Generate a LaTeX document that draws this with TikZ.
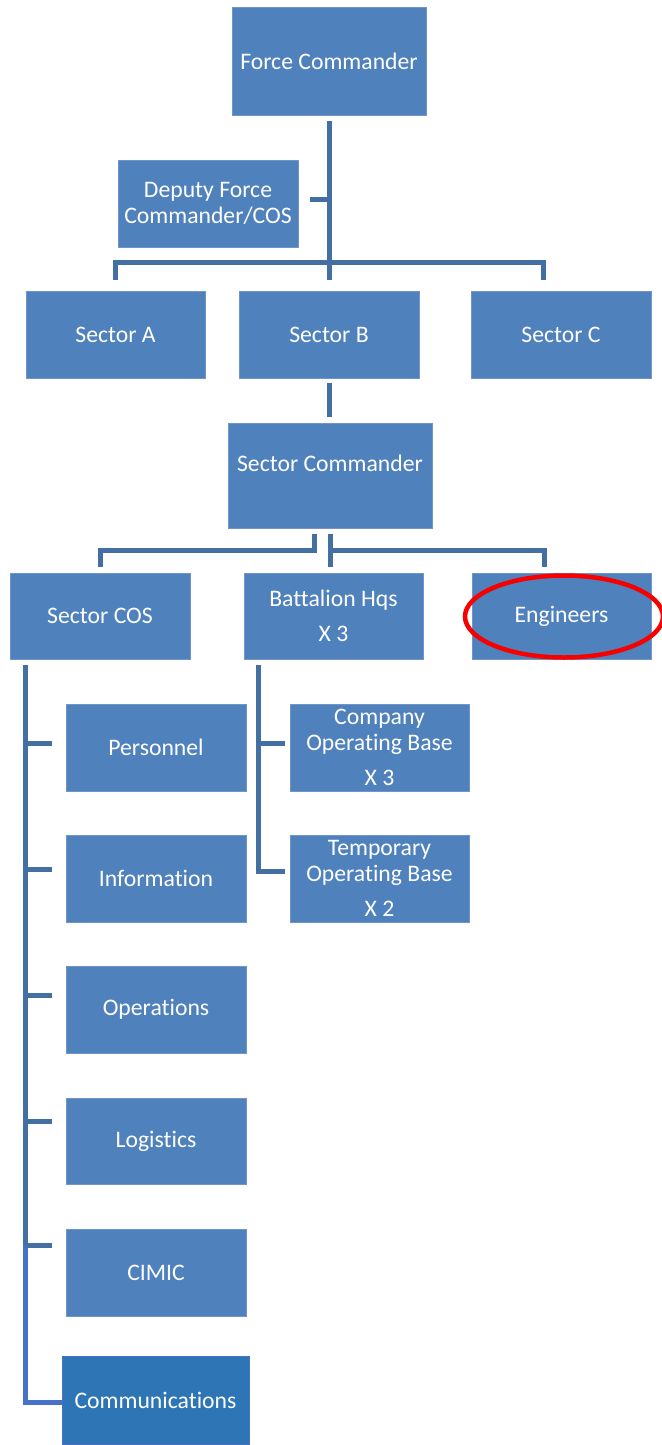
\documentclass[tikz,border=0pt]{standalone}
\usepackage{fontspec}
\setmainfont{Carlito}[Ligatures=NoCommon]
\usetikzlibrary{calc}
\definecolor{boxfill}{HTML}{4F81BD}
\definecolor{boxedge}{HTML}{7096C8}
\definecolor{connc}{HTML}{446FA3}
\definecolor{connb}{HTML}{4472C4}
\definecolor{commfill}{HTML}{2E75B6}
\definecolor{ringred}{HTML}{F70000}
\begin{document}
\begin{tikzpicture}[x=1pt,y=-1pt,
  box/.style={rectangle, fill=boxfill, draw=boxedge, line width=0.8pt, text=white,
    inner sep=0pt, align=center, minimum width=180pt, minimum height=87pt,
    font=\fontsize{23.7}{26}\selectfont},
  conn/.style={draw=connc, line width=5pt, line join=miter},
]
\useasboundingbox (0,0) rectangle (661,1445);

% boxes
\node[box, minimum width=194pt, minimum height=108pt] (fc) at (329,61) {Force Commander};
\node[box] (dfc) at (208,203.5) {Deputy Force\\Commander/COS};
\node[box, minimum width=179pt] (sa) at (115.5,334.5) {Sector A};
\node[box] (sb) at (329,334.5) {Sector B};
\node[box] (sc) at (561,334.5) {Sector C};
\node[box, minimum width=204pt, minimum height=105pt] (scmd) at (330,475.5) {\raisebox{12pt}[\height][\depth]{Sector Commander}};
\node[box, minimum height=86pt] (scos) at (100,616) {Sector COS};
\node[box, minimum width=179pt, minimum height=86pt] (bhq) at (333.5,616) {Battalion Hqs\\[9pt]X 3};
\node[box, minimum width=179pt, minimum height=86pt] (eng) at (561.5,616) {Engineers};
\node[box, minimum width=179pt] (cob) at (379.5,747.5) {Company\\Operating Base\\[9pt]X 3};
\node[box, minimum width=179pt] (tob) at (379.5,878.5) {Temporary\\Operating Base\\[9pt]X 2};
\node[box] (pers) at (156,747.5) {Personnel};
\node[box] (info) at (156,878.5) {Information};
\node[box] (ops) at (156,1009.5) {Operations};
\node[box, minimum height=86pt] (log) at (156,1141) {Logistics};
\node[box] (cimic) at (156,1272.5) {CIMIC};
\node[box, fill=commfill, draw=connb, minimum width=187pt, minimum height=88pt] (comm) at (155.5,1400) {Communications};

% top level connectors
\draw[conn] ([yshift=-6pt]fc.south) -- ($(fc.south |- sb.north)+(0,-11)$);
\coordinate (bar) at ($(fc.south)+(0,147)$);
\draw[conn] ($(sa.north)+(-0.5,-11)$) |- (bar) -| ($(sc.north)+(-18,-11)$);
\draw[conn] ($(dfc.east)+(12,-4.5)$) -- ($(fc.south |- dfc.east)+(0,-4.5)$);

% sector B to sector commander
\draw[conn] ([yshift=-5pt]sb.south) -- ($(sb.south |- scmd.north)+(0,-6)$);

% sector commander to its three branches
\draw[conn] ($(scmd.south)+(-16,6)$) -- ($(scmd.south)+(-16,22)$) -| ($(scos.north)+(0,-6)$);
\draw[conn] ($(scmd.south)+(0,6)$) -- ($(scmd.south |- bhq.north)+(0,-6)$);
\draw[conn] ($(scmd.south)+(0,22)$) -| ($(eng.north)+(-17.5,-6)$);

% sector COS column
\coordinate (lv) at ($(scos.south west)+(16,6)$);
\coordinate (lvb) at ($(lv |- cimic.west)+(0,-27.5)$);
\draw[conn, draw=connb] (lvb) |- ([yshift=-2pt]comm.west);
\draw[conn] (lv) -- (lvb);
\draw[conn] ($(lv |- pers.west)+(0,-4.5)$) -- ($(pers.west)+(-14,-4.5)$);
\draw[conn] ($(lv |- info.west)+(0,-9.5)$) -- ($(info.west)+(-14,-9.5)$);
\draw[conn] ($(lv |- ops.west)+(0,-14.5)$) -- ($(ops.west)+(-14,-14.5)$);
\draw[conn] ($(lv |- log.west)+(0,-20)$) -- ($(log.west)+(-14,-20)$);
\draw[conn] ($(lv |- cimic.west)+(0,-27.5)$) -- ($(cimic.west)+(-14,-27.5)$);

% battalion column
\coordinate (bv) at ($(bhq.south west)+(15,6)$);
\draw[conn] (bv) |- ($(tob.west)+(-5,-7.5)$);
\draw[conn] ($(bv |- cob.west)+(0,-4.5)$) -- ($(cob.west)+(-5,-4.5)$);

% red ring round Engineers
\draw[ringred, line width=4.5pt] ($(eng.center)+(2.5,0.5)$) ellipse [x radius=99pt, y radius=41pt];
\end{tikzpicture}
\end{document}
